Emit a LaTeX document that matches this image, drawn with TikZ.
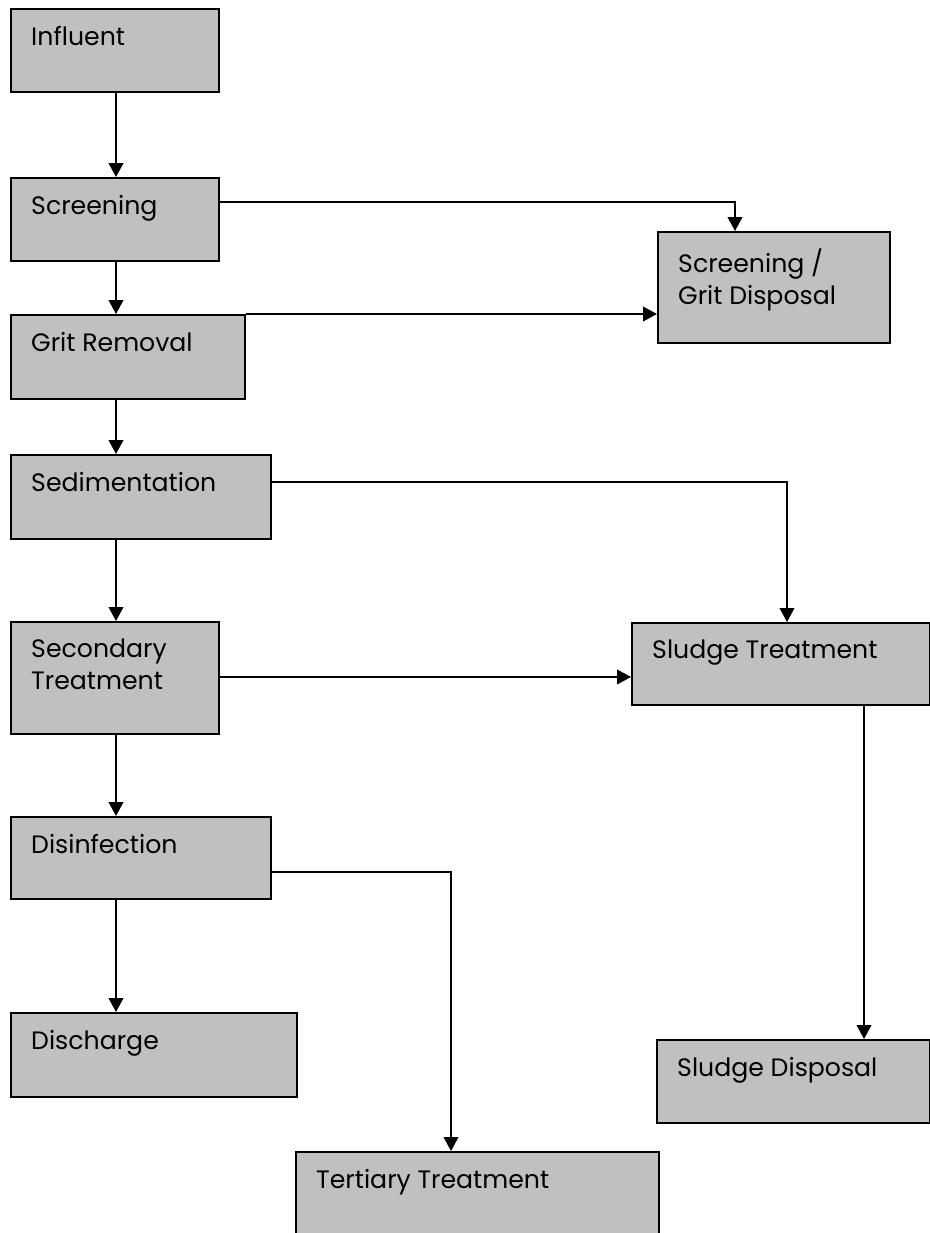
\documentclass[tikz,border=0pt]{standalone}
\usepackage{fontspec}
\setmainfont{Poppins}
\usetikzlibrary{arrows.meta}

\definecolor{boxgray}{RGB}{192,192,192}

\tikzset{
	lbl/.style={anchor=north west, shift={(21,18)}, inner sep=0pt, align=left,
		font=\fontsize{21.5}{27}\selectfont},
	stage/.style n args={3}{draw, fill=boxgray, line width=1.6pt, anchor=north west, inner sep=0pt,
		minimum width=#1*0.03cm, minimum height=#2*0.03cm, label={[lbl]north west:{#3}}},
	flow/.style={line width=1.6pt, -{Triangle[length=0.42cm, width=0.44cm]}},
}

\begin{document}
\begin{tikzpicture}[x=0.03cm, y=-0.03cm]
	\useasboundingbox (0,0) rectangle (930,1233);

	% main line
	\node[stage={208}{83}{Influent}] (infl) at (10,8) {};
	\node[stage={208}{83}{Screening}] (scr) at (10,177) {};
	\node[stage={234}{84}{Grit Removal}] (grit) at (10,314) {};
	\node[stage={260}{84}{Sedimentation}] (sed) at (10,454) {};
	\node[stage={208}{112}{Secondary\\Treatment}] (sec) at (10,621) {};
	\node[stage={260}{82}{Disinfection}] (dis) at (10,816) {};
	\node[stage={286}{84}{Discharge}] (dsch) at (10,1012) {};

	% side branches
	\node[stage={232}{111}{Screening /\\Grit Disposal}] (disp) at (657,231) {};
	\node[stage={298}{82}{Sludge Treatment}] (sludge) at (631,622) {};
	\node[stage={273}{83}{Sludge Disposal}] (sdisp) at (656,1039) {};
	\node[stage={363}{120}{Tertiary Treatment}] (tert) at (295,1151) {};

	% vertical flow
	\coordinate (spine) at (116,0);
	\draw[flow] (infl.south -| spine) -- (scr.north -| spine);
	\draw[flow] (scr.south -| spine) -- (grit.north -| spine);
	\draw[flow] (grit.south -| spine) -- (sed.north -| spine);
	\draw[flow] (sed.south -| spine) -- (sec.north -| spine);
	\draw[flow] (sec.south -| spine) -- (dis.north -| spine);
	\draw[flow] (dis.south -| spine) -- (dsch.north -| spine);

	% branches
	\draw[flow] (scr.east |- 0,202) -| (disp.north -| 735,0);
	\draw[flow] (grit.north east) -- (disp.west |- grit.north east);
	\draw[flow] (sed.east |- 0,482) -| (sludge.north -| 787,0);
	\draw[flow] (sec.east |- 0,677) -- (sludge.west |- 0,677);
	\draw[flow] (dis.east |- 0,872) -| (tert.north -| 451,0);
	\draw[flow] (sludge.south -| 864,0) -- (sdisp.north -| 864,0);
\end{tikzpicture}
\end{document}
